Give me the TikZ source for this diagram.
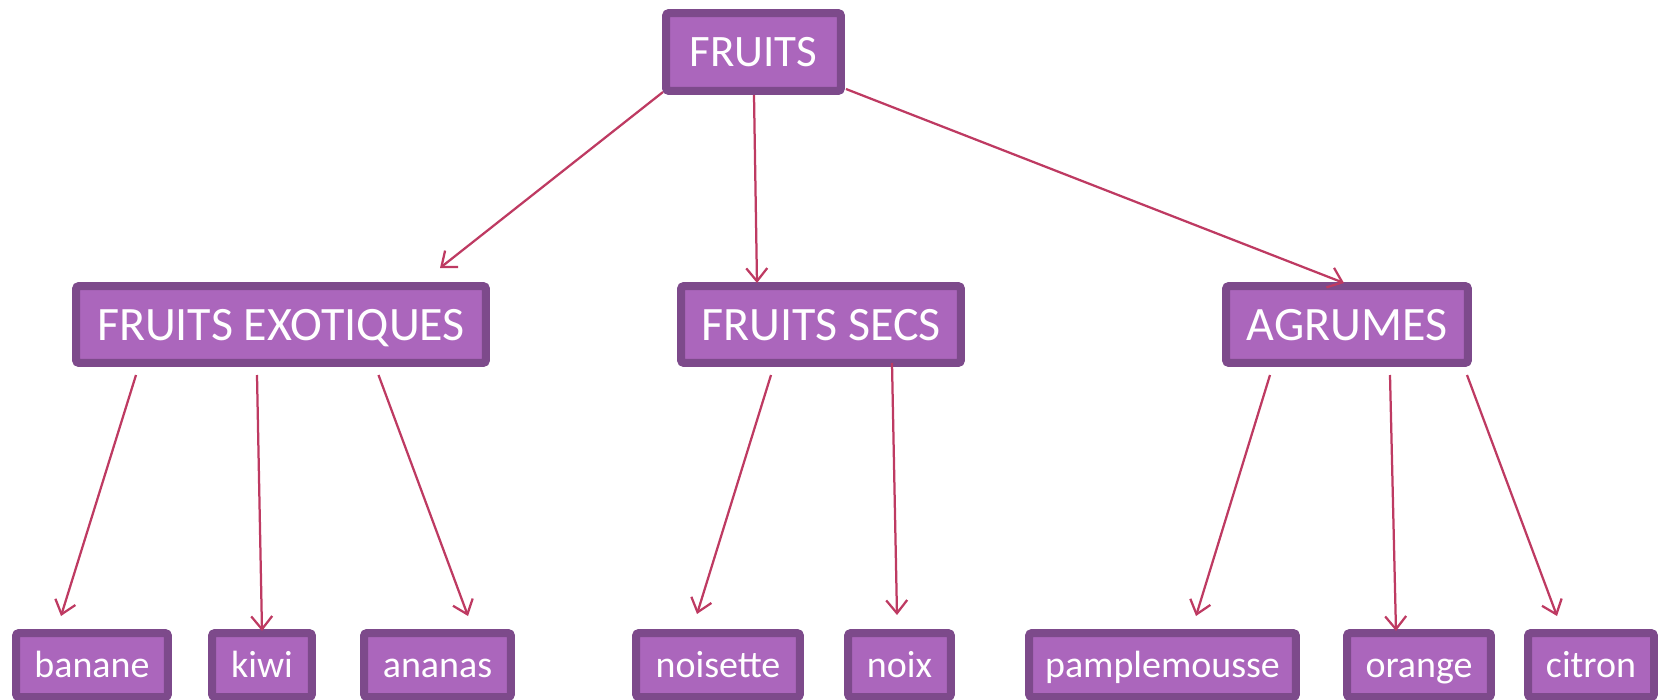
\documentclass[tikz,border=0pt]{standalone}
\usepackage{fontspec}
\setmainfont{Carlito}
\usetikzlibrary{arrows.meta,calc}
\definecolor{boxborder}{RGB}{125,74,139}
\definecolor{boxfill}{RGB}{171,102,188}
\definecolor{arrowcol}{RGB}{190,58,98}
\tikzset{
  box/.style={draw=boxborder, fill=boxfill, line width=0.16cm, rounded corners=0.06cm,
    inner sep=0pt, text=white, anchor=center, text depth=0.2cm},
  topbox/.style={box, text height=0.79cm, font=\fontsize{25.6}{30}\selectfont},
  midbox/.style={box, minimum height=1.54cm, text height=0.84cm, font=\fontsize{27.3}{31}\selectfont},
  leafbox/.style={box, minimum height=1.28cm, text height=0.68cm, font=\fontsize{21.6}{25}\selectfont},
  arr/.style={draw=arrowcol, line width=0.045cm, -{Straight Barb[length=0.26cm,width=0.42cm,line width=0.045cm]}}
}
\begin{document}
\begin{tikzpicture}[x=0.02cm,y=-0.02cm]
\useasboundingbox (0,0) rectangle (1658,700);
\clip (0,0) rectangle (1658,700);
% top
\node[topbox, minimum width=3.5cm, minimum height=1.56cm] (f) at (753.5,52) {FRUITS};
% middle
\node[midbox, minimum width=8.2cm] (fe) at (281,324.5) {FRUITS EXOTIQUES};
\node[midbox, minimum width=5.6cm] (fs) at (821,324.5) {FRUITS SECS};
\node[midbox, minimum width=4.84cm] (ag) at (1347,324.5) {AGRUMES};
% leaves
\node[leafbox, minimum width=3.04cm] (banane) at (92,665) {banane};
\node[leafbox, minimum width=2.0cm] (kiwi) at (262,665) {kiwi};
\node[leafbox, minimum width=2.94cm] (ananas) at (437.5,665) {ananas};
\node[leafbox, minimum width=3.28cm] (noisette) at (718,665) {noisette};
\node[leafbox, minimum width=2.06cm] (noix) at (899.5,665) {noix};
\node[leafbox, minimum width=5.34cm] (pamp) at (1162.5,665) {pamplemousse};
\node[leafbox, minimum width=2.88cm] (orange) at (1419,665) {orange};
\node[leafbox, minimum width=2.52cm] (citron) at (1591,665) {citron};
% arrows
\draw[arr] ($(f)+(-90.5,40)$) -- ($(fe)+(159,-56.5)$);
\draw[arr] ($(f)+(0.5,43)$) -- ($(fs)+(-64,-41.5)$);
\draw[arr] ($(f)+(92.5,37)$) -- ($(ag)+(-3,-41.5)$);
\draw[arr] ($(fe)+(-145,50.5)$) -- ($(banane)+(-31,-49)$);
\draw[arr] ($(fe)+(-24,50.5)$) -- ($(kiwi)+(0,-34)$);
\draw[arr] ($(fe)+(97.5,50.5)$) -- ($(ananas)+(30.5,-49)$);
\draw[arr] ($(fs)+(-50,50.5)$) -- ($(noisette)+(-21,-51)$);
\draw[arr] ($(fs)+(71,38.5)$) -- ($(noix)+(-2.5,-50)$);
\draw[arr] ($(ag)+(-77,50.5)$) -- ($(pamp)+(33.5,-49)$);
\draw[arr] ($(ag)+(43,50.5)$) -- ($(orange)+(-23,-34)$);
\draw[arr] ($(ag)+(120,50.5)$) -- ($(citron)+(-34,-49)$);
\end{tikzpicture}
\end{document}
